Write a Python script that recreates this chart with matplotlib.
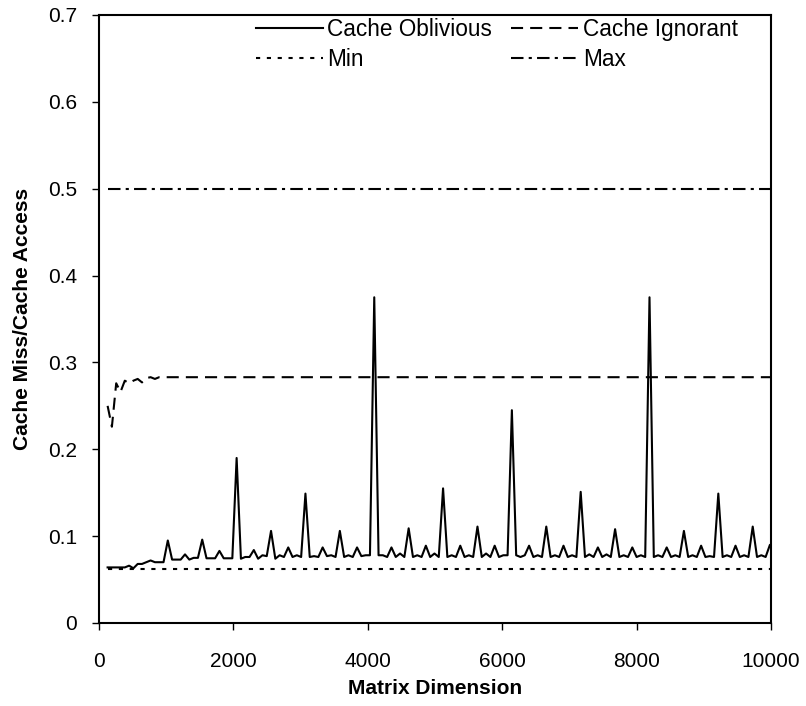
import matplotlib
matplotlib.use("Agg")
import matplotlib.pyplot as plt

plt.rcParams['font.family'] = ['Liberation Sans', 'DejaVu Sans']

# Cache Oblivious (matrix dimension step 64)
oblivious_x = list(range(128, 10049, 64))
oblivious_y = [
    # 128 - 1024
    0.064, 0.064, 0.064, 0.064, 0.064, 0.066, 0.063, 0.068, 0.068, 0.070,
    0.072, 0.070, 0.070, 0.070, 0.095,
    # 1088 - 2048
    0.073, 0.073, 0.073, 0.079, 0.073, 0.075, 0.075, 0.096,
    0.0745, 0.0745, 0.0745, 0.083, 0.0745, 0.0745, 0.0745, 0.190,
    # 2112 - 3072
    0.074, 0.076, 0.076, 0.084, 0.074, 0.078, 0.077, 0.106,
    0.074, 0.078, 0.076, 0.087, 0.076, 0.078, 0.076, 0.149,
    # 3136 - 4096
    0.076, 0.077, 0.076, 0.087, 0.077, 0.078, 0.076, 0.106,
    0.076, 0.078, 0.076, 0.087, 0.077, 0.078, 0.078, 0.375,
    # 4160 - 5120
    0.078, 0.078, 0.076, 0.087, 0.076, 0.080, 0.076, 0.109,
    0.076, 0.078, 0.076, 0.089, 0.076, 0.080, 0.076, 0.155,
    # 5184 - 6144
    0.076, 0.078, 0.076, 0.089, 0.076, 0.078, 0.076, 0.111,
    0.076, 0.080, 0.076, 0.089, 0.076, 0.078, 0.078, 0.245,
    # 6208 - 7168
    0.078, 0.076, 0.078, 0.089, 0.076, 0.078, 0.076, 0.111,
    0.076, 0.078, 0.076, 0.089, 0.076, 0.078, 0.076, 0.151,
    # 7232 - 8192
    0.076, 0.079, 0.076, 0.087, 0.076, 0.079, 0.076, 0.108,
    0.076, 0.078, 0.076, 0.087, 0.076, 0.078, 0.076, 0.375,
    # 8256 - 9216
    0.076, 0.078, 0.076, 0.087, 0.076, 0.078, 0.076, 0.106,
    0.076, 0.078, 0.076, 0.089, 0.076, 0.077, 0.076, 0.149,
    # 9280 - 10048
    0.076, 0.078, 0.076, 0.089, 0.076, 0.078, 0.076, 0.111,
    0.076, 0.078, 0.076, 0.090, 0.078,
]

# Cache Ignorant
ignorant_x = [128, 192, 256, 320, 384, 448, 512, 576, 640, 704, 768, 832,
              896, 960, 1024, 10000]
ignorant_y = [0.250, 0.226, 0.276, 0.266, 0.279, 0.276, 0.279, 0.281,
              0.277, 0.282, 0.283, 0.281, 0.283, 0.283, 0.283, 0.283]

# Bounds
min_x = [128, 10000]
min_y = [0.0625, 0.0625]
max_x = [128, 10000]
max_y = [0.5, 0.5]

x_ticks = [0, 2000, 4000, 6000, 8000, 10000]
y_ticks = [0, 0.1, 0.2, 0.3, 0.4, 0.5, 0.6, 0.7]
y_tick_labels = ['0', '0.1', '0.2', '0.3', '0.4', '0.5', '0.6', '0.7']

fig = plt.figure(figsize=(8.06, 7.06), dpi=100)
ax = fig.add_axes([99/806, 1 - 623/706, (771 - 99)/806, (623 - 15)/706])

lw = 1.5
h_obl, = ax.plot(oblivious_x, oblivious_y, color='black', lw=lw, label='Cache Oblivious')
h_ign, = ax.plot(ignorant_x, ignorant_y, color='black', lw=lw, dashes=(5.8, 3.4),
                 label='Cache Ignorant')
h_min, = ax.plot(min_x, min_y, color='black', lw=lw, dashes=(2, 3.2), label='Min')
h_max, = ax.plot(max_x, max_y, color='black', lw=lw, dashes=(6, 2.5, 1.5, 2.5), label='Max')

ax.set_xlim(0, 10000)
ax.set_ylim(0, 0.7)
ax.set_xticks(x_ticks)
ax.set_xticklabels([str(t) for t in x_ticks])
ax.set_yticks(y_ticks)
ax.set_yticklabels(y_tick_labels)
ax.tick_params(direction='out', length=5, width=1, labelsize=15)
ax.tick_params(axis='x', pad=16)
ax.tick_params(axis='y', pad=11)

for s in ax.spines.values():
    s.set_linewidth(1.5)

ax.set_xlabel('Matrix Dimension', fontsize=15, fontweight='bold', labelpad=6)
ax.set_ylabel('Cache Miss/Cache Access', fontsize=15, fontweight='bold', labelpad=11)

ax.legend([h_obl, h_min, h_ign, h_max],
          ['Cache Oblivious', 'Min', 'Cache Ignorant', 'Max'],
          ncol=2, frameon=False, fontsize=16.3, handlelength=2.95,
          handletextpad=0.2, columnspacing=0.85, loc='upper left',
          bbox_to_anchor=(256/806, 1 - 18/706), bbox_transform=fig.transFigure,
          labelspacing=0.3, borderaxespad=0, borderpad=0)

fig.savefig('out.png', dpi=100)
